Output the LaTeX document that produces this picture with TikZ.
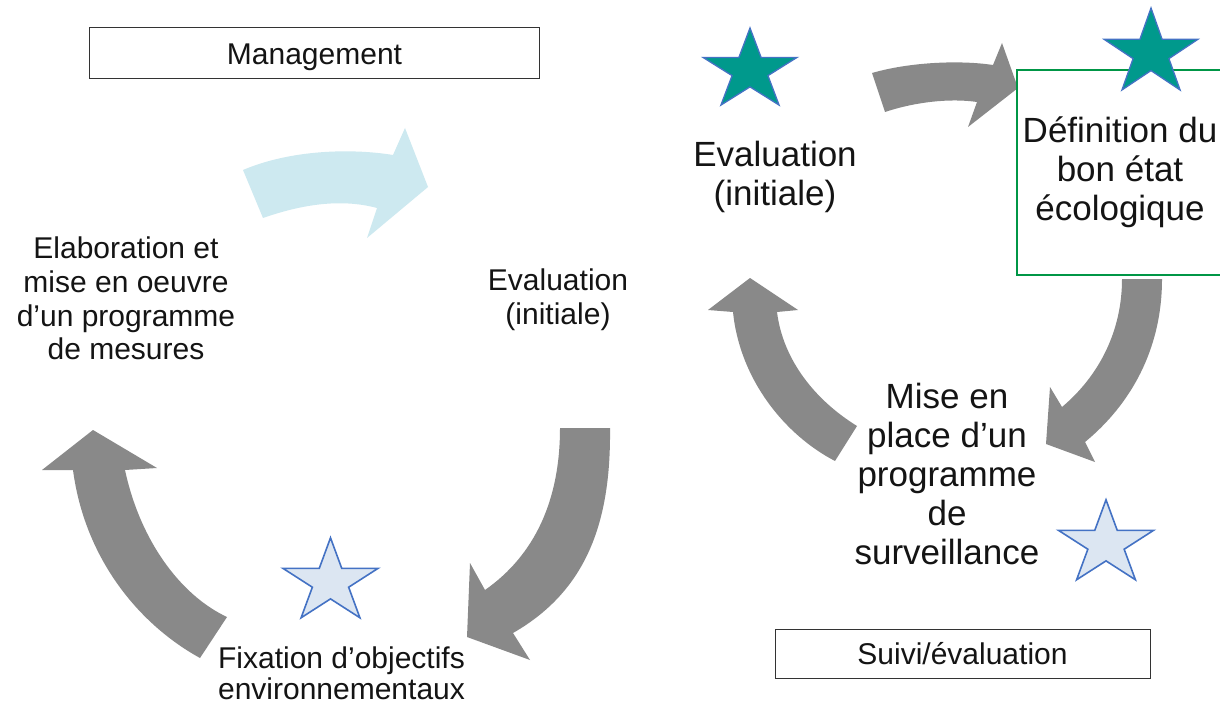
\documentclass[tikz,border=0pt]{standalone}
\usepackage{fontspec}
\setmainfont{Liberation Sans}
\definecolor{arrowgray}{RGB}{137,137,137}
\definecolor{arrowblue}{RGB}{205,233,240}
\definecolor{starteal}{RGB}{0,153,140}
\definecolor{starline}{RGB}{68,114,196}
\definecolor{starpale}{RGB}{220,230,242}
\definecolor{boxgreen}{RGB}{0,150,70}
\definecolor{txt}{RGB}{20,20,20}
\tikzset{
  pics/starfive/.style={code={
    \draw[pic actions] (0,1) -- (0.2245,0.309) -- (0.951,0.309) -- (0.363,-0.118)
      -- (0.588,-0.809) -- (0,-0.382) -- (-0.588,-0.809) -- (-0.363,-0.118)
      -- (-0.951,0.309) -- (-0.2245,0.309) -- cycle;}},
  tealstar/.style={fill=starteal, draw=starline, line width=1.3pt, line join=miter},
  palestar/.style={fill=starpale, draw=starline, line width=1.6pt, line join=miter},
  grayarrow/.style={fill=arrowgray},
  bluearrow/.style={fill=arrowblue},
  lefttext/.style={text=txt, align=center, inner sep=0pt, font=\fontsize{30}{33.7}\selectfont},
  righttext/.style={text=txt, align=center, inner sep=0pt, font=\fontsize{35}{39}\selectfont},
  titlebox/.style={draw=black!80, line width=0.9pt, text=txt, inner sep=0pt, font=\fontsize{30}{34}\selectfont},
  greenbox/.style={draw=boxgreen, line width=2.4pt, text=txt, align=center, inner sep=0pt,
    minimum width=206pt, minimum height=205pt, font=\fontsize{35}{39}\selectfont},
}
\begin{document}
\begin{tikzpicture}[x=1pt,y=1pt]
\useasboundingbox (0,0) rectangle (1220,-703);
\clip (0,0) rectangle (1220,-703);
\fill[white] (0,0) rectangle (1220,-703);

% ---------- left cycle ----------
\fill[bluearrow] (243,-170) .. controls (290,-150) and (350,-148) .. (393,-155)
  -- (405,-128) -- (428,-187) -- (367,-238) -- (377,-208)
  .. controls (340,-198) and (300,-205) .. (263,-218) -- cycle;
\fill[grayarrow] (560,-428) .. controls (560,-500) and (535,-555) .. (485,-590)
  -- (470,-563) -- (467,-637) -- (530,-660) -- (513,-633)
  .. controls (588,-590) and (611,-520) .. (610,-428) -- cycle;
\fill[grayarrow] (227,-617) .. controls (180,-595) and (140,-540) .. (125,-470)
  -- (157,-468) -- (93,-430) -- (42,-470) -- (73,-470)
  .. controls (85,-560) and (140,-625) .. (200,-658) -- cycle;

\node[titlebox, minimum width=450pt, minimum height=51pt, text height=25pt, text depth=0pt] (mgmt) at (314.5,-52.5) {Management};
\node[lefttext] (elab) at (126,-298.5) {Elaboration et\\mise en oeuvre\\d’un programme\\de mesures};
\node[lefttext] (evalL) at (558,-299.5) {Evaluation\\(initiale)};
\node[lefttext, font=\fontsize{30}{31}\selectfont] (fix) at (341.5,-673) {Fixation d’objectifs\\environnementaux};
\pic[palestar, xscale=50, yscale=44.2] at (330.5,-582) {starfive};

% ---------- right cycle ----------
\fill[grayarrow] (872,-73) .. controls (910,-62) and (960,-60) .. (993,-65)
  -- (1002,-43) -- (1018,-88) -- (968,-127) -- (977,-102)
  .. controls (950,-98) and (915,-102) .. (885,-112) -- cycle;
\fill[grayarrow] (1122,-279) .. controls (1122,-330) and (1100,-375) .. (1062,-407)
  -- (1050,-387) -- (1046,-444) -- (1095,-462) -- (1085,-442)
  .. controls (1130,-405) and (1162,-350) .. (1162,-279) -- cycle;
\fill[grayarrow] (857,-426) .. controls (815,-400) and (783,-360) .. (777,-312)
  -- (798,-310) -- (750,-278) -- (708,-310) -- (733,-312)
  .. controls (740,-380) and (785,-435) .. (835,-461) -- cycle;

\node[greenbox] (def) at (1120,-172.5) {Définition du\\bon état\\écologique};
\node[righttext] (evalR) at (775,-176.5) {Evaluation\\(initiale)};
\node[righttext] (mise) at (947,-474) {Mise en\\place d’un\\programme\\de\\surveillance};
\node[titlebox, minimum width=375pt, minimum height=49pt] (suivi) at (962.5,-653.5) {Suivi/évaluation};

\pic[tealstar, xscale=49.4, yscale=42.6] at (750,-70.6) {starfive};
\pic[tealstar, xscale=49.4, yscale=45.3] at (1151,-53.3) {starfive};
\pic[palestar, xscale=50, yscale=44.2] at (1106,-544) {starfive};
\end{tikzpicture}
\end{document}
